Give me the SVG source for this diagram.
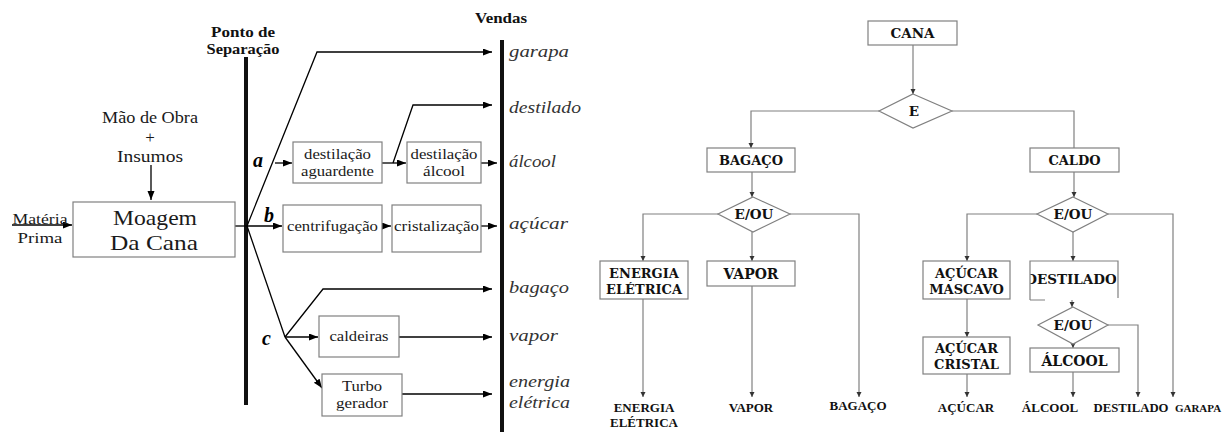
<svg xmlns="http://www.w3.org/2000/svg" width="1223" height="432" viewBox="0 0 1223 432">
<defs>
<marker id="ah" markerUnits="userSpaceOnUse" markerWidth="10" markerHeight="8" refX="9" refY="3.5" orient="auto"><path d="M0,0 L9,3.5 L0,7 z" fill="#000"/></marker>
<marker id="as" markerUnits="userSpaceOnUse" markerWidth="6" markerHeight="6" refX="5" refY="2.5" orient="auto"><path d="M0,0 L5,2.5 L0,5 z" fill="#333"/></marker>
<clipPath id="dclip"><rect x="1030.5" y="262" width="86" height="36"/></clipPath>
<style>
.ln{fill:none;stroke:#000;stroke-width:1.3}
.bx{fill:#fff;stroke:#808080;stroke-width:1.2}
.thick{stroke:#111;stroke-width:4}
.t{font-family:"Liberation Serif",serif;fill:#1a1a1a;text-anchor:middle}
.tb{font-family:"Liberation Serif",serif;font-weight:bold;fill:#111;text-anchor:middle}
.it{font-family:"Liberation Serif",serif;font-style:italic;fill:#333;font-size:17px}
.lt{font-family:"Liberation Serif",serif;font-style:italic;font-weight:bold;fill:#000;font-size:20px}
.g{fill:none;stroke:#808080;stroke-width:1.2}
.gb{fill:#fff;stroke:#808080;stroke-width:1.2}
.rb{font-family:"DejaVu Serif","Liberation Serif",serif;font-weight:bold;fill:#111;text-anchor:middle}
.lb{font-family:"Liberation Serif",serif;font-weight:bold;fill:#111;text-anchor:middle}
</style>
</defs>
<rect width="1223" height="432" fill="#fff"/>

<!-- LEFT DIAGRAM -->
<g id="connectors-left">
<line class="thick" x1="246" y1="57" x2="246" y2="405"/>
<line class="thick" x1="502" y1="40" x2="502" y2="432"/>
<line class="ln" x1="12" y1="225" x2="72" y2="225" marker-end="url(#ah)"/>
<line class="ln" x1="151" y1="165" x2="151" y2="200" marker-end="url(#ah)"/>
<line class="ln" x1="235" y1="226" x2="247" y2="226"/>
<polyline class="ln" points="247,226 317,52 492,52" marker-end="url(#ah)"/>
<line class="ln" x1="275" y1="163" x2="292" y2="163" marker-end="url(#ah)"/>
<line class="ln" x1="382" y1="163" x2="406" y2="163" marker-end="url(#ah)"/>
<polyline class="ln" points="393,163 413,105 492,105" marker-end="url(#ah)"/>
<line class="ln" x1="481" y1="163" x2="497" y2="163" marker-end="url(#ah)"/>
<line class="ln" x1="247" y1="226" x2="282" y2="226" marker-end="url(#ah)"/>
<line class="ln" x1="382" y1="226" x2="391" y2="226" marker-end="url(#ah)"/>
<line class="ln" x1="481" y1="226" x2="497" y2="226" marker-end="url(#ah)"/>
<line class="ln" x1="247" y1="226" x2="285" y2="337"/>
<polyline class="ln" points="285,337 323,289 492,289" marker-end="url(#ah)"/>
<line class="ln" x1="285" y1="337" x2="318" y2="337" marker-end="url(#ah)"/>
<line class="ln" x1="399" y1="337" x2="492" y2="337" marker-end="url(#ah)"/>
<line class="ln" x1="285" y1="337" x2="322" y2="388" marker-end="url(#ah)"/>
<line class="ln" x1="402" y1="394" x2="492" y2="394" marker-end="url(#ah)"/>
</g>

<g id="ponto-separacao"><text class="tb" x="243" y="37" font-size="15" textLength="64" lengthAdjust="spacingAndGlyphs">Ponto de</text><text class="tb" x="243" y="54" font-size="15" textLength="73" lengthAdjust="spacingAndGlyphs">Separação</text></g>
<g id="vendas"><text class="tb" x="501" y="23" font-size="15" textLength="52" lengthAdjust="spacingAndGlyphs">Vendas</text></g>
<g id="mao-de-obra"><text class="t" x="150" y="123" font-size="16.5" textLength="96" lengthAdjust="spacingAndGlyphs">Mão de Obra</text><text class="t" x="150" y="143" font-size="17">+</text><text class="t" x="150" y="162" font-size="16.5" textLength="66" lengthAdjust="spacingAndGlyphs">Insumos</text></g>
<g id="materia-prima"><text class="t" x="40" y="224" font-size="15" textLength="55" lengthAdjust="spacingAndGlyphs">Matéria</text><text class="t" x="40" y="243" font-size="15" textLength="45" lengthAdjust="spacingAndGlyphs">Prima</text></g>
<g id="moagem"><rect class="bx" x="73" y="202" width="162" height="55"/><text class="t" x="155" y="225" font-size="21" textLength="84" lengthAdjust="spacingAndGlyphs">Moagem</text><text class="t" x="154" y="250" font-size="21" textLength="88" lengthAdjust="spacingAndGlyphs">Da Cana</text></g>
<g id="label-a"><text class="lt" x="253" y="167">a</text></g>
<g id="label-b"><text class="lt" x="264" y="222">b</text></g>
<g id="label-c"><text class="lt" x="262" y="345">c</text></g>
<g id="dest-aguardente"><rect class="bx" x="293" y="142" width="89" height="41"/><text class="t" x="337.5" y="159" font-size="14" textLength="67" lengthAdjust="spacingAndGlyphs">destilação</text><text class="t" x="337.5" y="176" font-size="14" textLength="73" lengthAdjust="spacingAndGlyphs">aguardente</text></g>
<g id="dest-alcool"><rect class="bx" x="407" y="142" width="74" height="41"/><text class="t" x="444" y="159" font-size="14" textLength="67" lengthAdjust="spacingAndGlyphs">destilação</text><text class="t" x="444" y="176" font-size="14" textLength="42" lengthAdjust="spacingAndGlyphs">álcool</text></g>
<g id="centrifugacao"><rect class="bx" x="283" y="205" width="99" height="47"/><text class="t" x="332.5" y="231" font-size="14" textLength="91" lengthAdjust="spacingAndGlyphs">centrifugação</text></g>
<g id="cristalizacao"><rect class="bx" x="392" y="205" width="89" height="47"/><text class="t" x="436.5" y="231" font-size="14" textLength="85" lengthAdjust="spacingAndGlyphs">cristalização</text></g>
<g id="caldeiras"><rect class="bx" x="319" y="316" width="80" height="41"/><text class="t" x="359" y="341" font-size="14" textLength="59" lengthAdjust="spacingAndGlyphs">caldeiras</text></g>
<g id="turbo"><rect class="bx" x="322" y="374" width="80" height="42"/><text class="t" x="362" y="391" font-size="14" textLength="40" lengthAdjust="spacingAndGlyphs">Turbo</text><text class="t" x="362" y="408" font-size="14" textLength="52" lengthAdjust="spacingAndGlyphs">gerador</text></g>
<g id="sales">
<text class="it" x="509" y="57" textLength="60" lengthAdjust="spacingAndGlyphs">garapa</text>
<text class="it" x="509" y="113" textLength="72" lengthAdjust="spacingAndGlyphs">destilado</text>
<text class="it" x="509" y="167" textLength="47" lengthAdjust="spacingAndGlyphs">álcool</text>
<text class="it" x="509" y="229" textLength="59" lengthAdjust="spacingAndGlyphs">açúcar</text>
<text class="it" x="509" y="293" textLength="60" lengthAdjust="spacingAndGlyphs">bagaço</text>
<text class="it" x="509" y="341" textLength="49" lengthAdjust="spacingAndGlyphs">vapor</text>
<text class="it" x="509" y="387" textLength="61" lengthAdjust="spacingAndGlyphs">energia</text>
<text class="it" x="509" y="408" textLength="61" lengthAdjust="spacingAndGlyphs">elétrica</text>
</g>

<!-- RIGHT DIAGRAM -->
<g id="connectors-right">
<line class="g" x1="913" y1="45" x2="913" y2="94" marker-end="url(#as)"/>
<polyline class="g" points="879,111 751,111 751,148" marker-end="url(#as)"/>
<polyline class="g" points="952,111 1074,111 1074,148"/>
<line class="g" x1="752" y1="172" x2="752" y2="197" marker-end="url(#as)"/>
<polyline class="g" points="718,214 643,214 643,261" marker-end="url(#as)"/>
<line class="g" x1="752" y1="232" x2="752" y2="261" marker-end="url(#as)"/>
<polyline class="g" points="790,214 859,214 859,397" marker-end="url(#as)"/>
<line class="g" x1="643" y1="299" x2="643" y2="397" marker-end="url(#as)"/>
<line class="g" x1="752" y1="286" x2="752" y2="397" marker-end="url(#as)"/>
<line class="g" x1="1074" y1="172" x2="1074" y2="197" marker-end="url(#as)"/>
<polyline class="g" points="1037,214 967,214 967,261" marker-end="url(#as)"/>
<line class="g" x1="967" y1="299" x2="967" y2="337" marker-end="url(#as)"/>
<line class="g" x1="967" y1="374" x2="967" y2="397" marker-end="url(#as)"/>
<line class="g" x1="1073" y1="232" x2="1073" y2="261" marker-end="url(#as)"/>
<line class="g" x1="1072" y1="300" x2="1072" y2="307" marker-end="url(#as)"/>
<line class="g" x1="1073" y1="344" x2="1073" y2="348" marker-end="url(#as)"/>
<polyline class="g" points="1108,325 1138,325 1138,397" marker-end="url(#as)"/>
<line class="g" x1="1073" y1="372" x2="1073" y2="397" marker-end="url(#as)"/>
<polyline class="g" points="1108,214 1173,214 1173,397" marker-end="url(#as)"/>
</g>
<g id="cana"><rect class="gb" x="868" y="21" width="89" height="24"/><text class="rb" x="912.5" y="38" font-size="13.5">CANA</text></g>
<g id="e"><polygon class="gb" points="913,94 952,111 913,128 879,111"/><text class="rb" x="914" y="116" font-size="13.5">E</text></g>
<g id="bagaco"><rect class="gb" x="707" y="148" width="88" height="24"/><text class="rb" x="751" y="165" font-size="13">BAGAÇO</text></g>
<g id="caldo"><rect class="gb" x="1030" y="148" width="89" height="24"/><text class="rb" x="1074.5" y="165" font-size="13">CALDO</text></g>
<g id="eou1"><polygon class="gb" points="753,197 790,214 753,232 718,214"/><text class="rb" x="754" y="219" font-size="13.5">E/OU</text></g>
<g id="eou2"><polygon class="gb" points="1073,197 1108,214 1073,232 1037,214"/><text class="rb" x="1073" y="219" font-size="13.5">E/OU</text></g>
<g id="energia"><rect class="gb" x="600" y="261" width="88" height="38"/><text class="rb" x="644" y="278" font-size="13">ENERGIA</text><text class="rb" x="644" y="294" font-size="13">ELÉTRICA</text></g>
<g id="vapor"><rect class="gb" x="707" y="261" width="88" height="25"/><text class="rb" x="751" y="279" font-size="14">VAPOR</text></g>
<g id="mascavo"><rect class="gb" x="923" y="261" width="87" height="38"/><text class="rb" x="966.5" y="278" font-size="13">AÇÚCAR</text><text class="rb" x="966.5" y="294" font-size="13">MASCAVO</text></g>
<g id="cristal"><rect class="gb" x="923" y="337" width="87" height="37"/><text class="rb" x="966.5" y="353" font-size="13">AÇÚCAR</text><text class="rb" x="966.5" y="369" font-size="13">CRISTAL</text></g>
<g id="destilado"><path class="g" d="M1030,300 V261 H1118 V298 M1030,300 H1045"/><text class="rb" x="1071" y="284" font-size="13.5" clip-path="url(#dclip)">DESTILADO</text></g>
<g id="eou3"><polygon class="gb" points="1073,307 1108,325 1073,344 1038,325"/><text class="rb" x="1073" y="330" font-size="13.5">E/OU</text></g>
<g id="alcool"><rect class="gb" x="1030" y="348" width="89" height="24"/><text class="rb" x="1074.5" y="366" font-size="14">ÁLCOOL</text></g>
<g id="outputs-right">
<text class="lb" x="644" y="412" font-size="13">ENERGIA</text>
<text class="lb" x="644" y="427" font-size="13">ELÉTRICA</text>
<text class="lb" x="751" y="412" font-size="13">VAPOR</text>
<text class="lb" x="858" y="410" font-size="13">BAGAÇO</text>
<text class="lb" x="966" y="412" font-size="13">AÇÚCAR</text>
<text class="lb" x="1050" y="412" font-size="13">ÁLCOOL</text>
<text class="lb" x="1131" y="412" font-size="12.5" textLength="75" lengthAdjust="spacingAndGlyphs">DESTILADO</text>
<text class="lb" x="1198" y="412" font-size="11">GARAPA</text>
</g>
</svg>
